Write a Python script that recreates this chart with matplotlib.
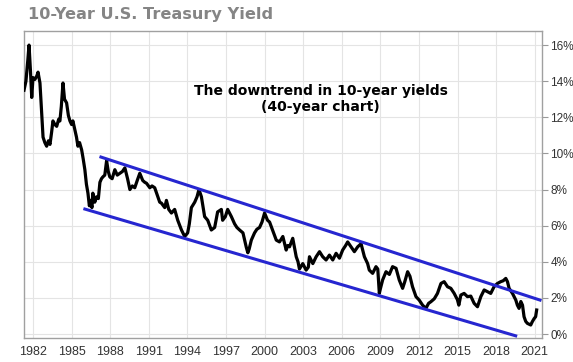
import numpy as np
import matplotlib
matplotlib.use('Agg')
import matplotlib.pyplot as plt

# 10-year yield (decimal year, percent)
years = [
    1981.30, 1981.45, 1981.60, 1981.69, 1981.80, 1981.90, 1982.00, 1982.15, 1982.30, 1982.39,
    1982.54, 1982.65, 1982.78, 1982.92, 1983.06, 1983.20, 1983.32, 1983.45, 1983.55, 1983.70,
    1983.84, 1984.00, 1984.09, 1984.20, 1984.33, 1984.45, 1984.61, 1984.75, 1984.87, 1985.00,
    1985.10, 1985.26, 1985.38, 1985.49, 1985.62, 1985.78, 1985.90, 1986.03, 1986.15, 1986.27,
    1986.38, 1986.48, 1986.58, 1986.65, 1986.80, 1986.94, 1987.08, 1987.20, 1987.32, 1987.43,
    1987.58, 1987.72, 1987.85, 1987.97, 1988.15, 1988.36, 1988.55, 1988.75, 1988.95, 1989.14,
    1989.35, 1989.53, 1989.72, 1989.91, 1990.10, 1990.30, 1990.53, 1990.69, 1990.82, 1991.08,
    1991.25, 1991.46, 1991.70, 1991.85, 1991.98, 1992.24, 1992.37, 1992.55, 1992.76, 1993.01,
    1993.25, 1993.54, 1993.79, 1994.02, 1994.15, 1994.31, 1994.57, 1994.75, 1994.90, 1995.09,
    1995.34, 1995.58, 1995.86, 1996.12, 1996.35, 1996.64, 1996.74, 1996.95, 1997.13, 1997.42,
    1997.67, 1997.85, 1998.06, 1998.32, 1998.58, 1998.70, 1998.80, 1998.97, 1999.22, 1999.40,
    1999.61, 1999.80, 2000.00, 2000.23, 2000.39, 2000.62, 2000.91, 2001.16, 2001.42, 2001.68,
    2001.80, 2001.94, 2002.19, 2002.46, 2002.60, 2002.71, 2002.97, 2003.23, 2003.40, 2003.49,
    2003.75, 2004.01, 2004.27, 2004.52, 2004.78, 2005.04, 2005.30, 2005.56, 2005.82, 2006.07,
    2006.30, 2006.46, 2006.72, 2006.98, 2007.24, 2007.50, 2007.76, 2008.01, 2008.14, 2008.40,
    2008.66, 2008.80, 2008.92, 2009.00, 2009.18, 2009.44, 2009.70, 2009.95, 2010.22, 2010.47,
    2010.73, 2010.90, 2011.12, 2011.30, 2011.50, 2011.77, 2012.02, 2012.28, 2012.54, 2012.75,
    2012.93, 2013.19, 2013.44, 2013.71, 2013.96, 2014.22, 2014.48, 2014.74, 2014.99, 2015.10,
    2015.26, 2015.51, 2015.77, 2016.03, 2016.29, 2016.55, 2016.81, 2017.07, 2017.32, 2017.58,
    2017.84, 2018.10, 2018.36, 2018.55, 2018.75, 2018.88, 2019.01, 2019.27, 2019.53, 2019.65,
    2019.78, 2019.92, 2020.05, 2020.17, 2020.30, 2020.43, 2020.69, 2020.81, 2020.95, 2021.07,
    2021.15,
]
yields = [
    13.5, 14.0, 15.2, 16.0, 14.6, 13.1, 14.2, 14.1, 14.3, 14.5,
    13.9, 12.5, 10.9, 10.6, 10.4, 10.7, 10.5, 11.2, 11.8, 11.6,
    11.5, 11.9, 11.8, 12.6, 13.9, 13.0, 12.8, 12.1, 11.8, 11.6,
    11.8, 11.3, 10.9, 10.4, 10.6, 10.2, 9.7, 9.1, 8.3, 7.8,
    7.1, 7.4, 7.0, 7.8, 7.3, 7.6, 7.5, 8.4, 8.6, 8.7,
    8.8, 9.6, 9.0, 8.7, 8.6, 9.1, 8.8, 8.9, 9.0, 9.2,
    8.6, 8.0, 8.2, 8.1, 8.5, 8.9, 8.5, 8.4, 8.35, 8.1,
    8.2, 8.1, 7.6, 7.3, 7.25, 7.0, 7.4, 6.9, 6.7, 6.9,
    6.3, 5.76, 5.4, 5.6, 6.1, 7.0, 7.3, 7.6, 8.0, 7.6,
    6.5, 6.3, 5.76, 5.9, 6.76, 6.9, 6.3, 6.5, 6.9, 6.5,
    6.1, 5.9, 5.76, 5.6, 4.8, 4.5, 4.7, 5.2, 5.6, 5.8,
    5.9, 6.2, 6.7, 6.3, 6.2, 5.76, 5.2, 5.1, 5.4, 4.65,
    4.9, 4.83, 5.3, 4.28, 4.0, 3.6, 3.9, 3.54, 3.7, 4.28,
    3.9, 4.28, 4.56, 4.28, 4.1, 4.37, 4.1, 4.47, 4.2, 4.65,
    4.9, 5.1, 4.83, 4.56, 4.83, 5.0, 4.28, 3.9, 3.54, 3.36,
    3.73, 3.6, 2.25, 2.5, 3.0, 3.45, 3.3, 3.73, 3.64, 2.99,
    2.53, 2.9, 3.45, 3.2, 2.62, 2.07, 1.88, 1.6, 1.42, 1.7,
    1.79, 1.95, 2.25, 2.8, 2.9, 2.62, 2.53, 2.25, 1.9, 1.6,
    2.16, 2.25, 2.07, 2.1, 1.7, 1.51, 2.07, 2.44, 2.35, 2.25,
    2.62, 2.8, 2.9, 2.95, 3.08, 2.9, 2.53, 2.25, 1.88, 1.6,
    1.42, 1.8, 1.6, 0.96, 0.7, 0.59, 0.5, 0.68, 0.85, 0.96,
    1.33,
]

# channel lines: (start year, start %) -> (end year, end %)
upper_x = [1987.28, 2021.41]
upper_y = [9.8, 1.88]
lower_x = [1986.03, 2019.52]
lower_y = [6.92, -0.1]

xticks = list(range(1982, 2022, 3))
yticks = list(range(0, 17, 2))

fig = plt.figure(figsize=(5.73, 3.62), dpi=100)
ax = fig.add_axes([0.0419, 0.0663, 0.9041, 0.8481])

ax.plot(years, yields, color='black', lw=2.3, zorder=3)
ax.plot(upper_x, upper_y, color='#2626d0', lw=2.2, zorder=4)
ax.plot(lower_x, lower_y, color='#2626d0', lw=2.2, zorder=4)

ax.set_xlim(1981.3, 2021.57)
ax.set_ylim(-0.22, 16.78)
ax.set_xticks(xticks)
ax.set_xticklabels([str(t) for t in xticks], fontsize=9, family='Liberation Sans', color='#333')
ax.set_yticks(yticks)
# right-hand labels: kept small enough to stay inside the canvas
ax.set_yticklabels([f'{t}%' for t in yticks], fontsize=8.5, family='Liberation Sans', color='#333')
ax.yaxis.tick_right()
ax.tick_params(axis='x', length=0, pad=6)
ax.tick_params(axis='y', length=4, color='#999', pad=2)
ax.grid(True, color='#e4e4e4', lw=0.8)
ax.set_axisbelow(True)
for s in ax.spines.values():
    s.set_color('#a0a0a0')
    s.set_linewidth(1.0)

fig.text(28 / 573, 1 - 15 / 362, '10-Year U.S. Treasury Yield', fontsize=11.6, fontweight='bold',
         color='#858585', ha='left', va='center', family='DejaVu Sans')
ax.text(0.573, 0.778, 'The downtrend in 10-year yields\n(40-year chart)', fontsize=10,
        fontweight='bold', ha='center', va='center', linespacing=1.15, family='DejaVu Sans',
        transform=ax.transAxes)

fig.savefig('out.png', dpi=100)
